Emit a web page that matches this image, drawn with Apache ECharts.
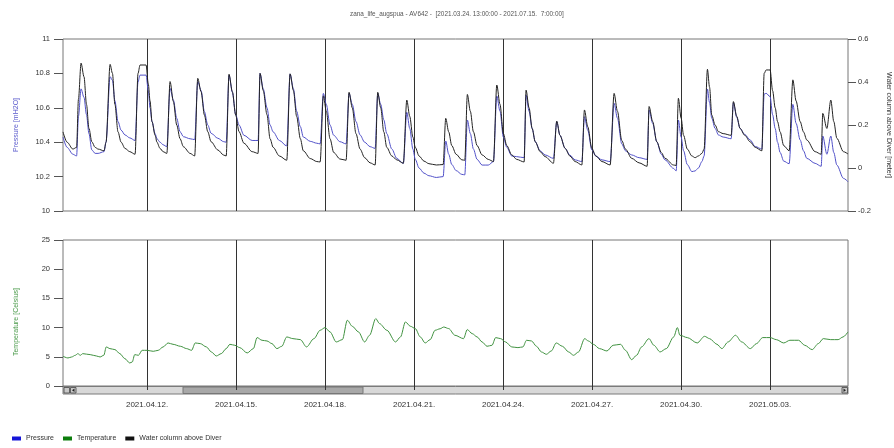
<!DOCTYPE html>
<html>
<head>
<meta charset="utf-8">
<title>zana_life_augspua - AV642</title>
<script src="https://cdn.jsdelivr.net/npm/echarts@6.0.0/dist/echarts.min.js"></script>
<style>
  html, body { margin: 0; padding: 0; background: #fff; }
  #chart { width: 894px; height: 448px; }
</style>
</head>
<body>
<div id="chart"></div>
<script>
// time is in hours since 2021.04.09. 00:00 (UTC)
const xMin = 4
const xMax = 639
const dateLabels = ['2021.04.12.', '2021.04.15.', '2021.04.18.', '2021.04.21.', '2021.04.24.', '2021.04.27.', '2021.04.30.', '2021.05.03.']

// sample times shared by pressure and water column
const topHours = [
  4, 7.3, 12, 15, 16.5, 18.6, 21, 23, 25, 27.3,
  30, 32.4, 37.2, 38.8, 42.1, 44, 46, 48.5, 51, 54.2,
  58, 62.3, 64.7, 66.3, 71.2, 73, 74.4, 76, 78.5, 80,
  82.5, 85, 88, 90.6, 93.3, 96, 98.7, 101.4, 106.8, 110.5,
  113, 115.7, 118.4, 121.1, 123.8, 129.2, 134, 136, 138.3, 141,
  143.7, 146.4, 150.4, 157, 161.8, 163.4, 166, 169, 171.5, 174,
  179, 185, 187.7, 190.4, 193, 196, 198.4, 204, 209.3, 212,
  214.6, 217, 220, 223, 228, 233, 235.4, 238, 241, 244.3,
  248, 252.4, 256.5, 258.6, 261, 263.5, 265.9, 270, 274, 279.3,
  282.1, 284.5, 287, 289, 292, 296, 300, 306, 311.5, 313.6,
  316, 318.5, 322, 326.6, 329, 331.1, 333.5, 336, 339, 343,
  348, 352.2, 354.9, 357.5, 360.2, 363, 367, 371, 377, 378.6,
  381, 383.5, 386, 390, 394, 400.7, 403.4, 406, 410.2, 414,
  418.3, 423.7, 425.8, 428.5, 431.8, 435, 440, 446.6, 449.8, 452.5,
  456, 459, 464, 470, 476.5, 478.1, 481, 484.3, 488, 491,
  497.8, 500, 501.8, 504, 506, 509, 512.7, 515.3, 518, 520.8,
  522.6, 525.3, 527, 528.8, 531.5, 534.2, 538, 544.5, 546.3, 549,
  551.7, 555.5, 559.8, 564, 569.3, 571.2, 572.8, 576, 578, 580.1,
  582, 584.1, 587, 591.4, 594.4, 597, 600.3, 603, 605.7, 612.4,
  617.3, 618.6, 621.9, 625.1, 627.5, 630, 635.3, 639
]

// Pressure [mH2O]
const pressure = [
  10.43, 10.37, 10.33, 10.32, 10.55, 10.71, 10.66, 10.56, 10.45, 10.355,
  10.335, 10.335, 10.345, 10.40, 10.781, 10.76, 10.64, 10.52, 10.47, 10.442,
  10.425, 10.41, 10.75, 10.79, 10.79, 10.70, 10.60, 10.52, 10.45, 10.42,
  10.40, 10.385, 10.374, 10.713, 10.645, 10.539, 10.461, 10.432, 10.42, 10.415,
  10.752, 10.70, 10.577, 10.50, 10.452, 10.423, 10.403, 10.40, 10.79, 10.69,
  10.56, 10.50, 10.44, 10.41, 10.41, 10.80, 10.71, 10.60, 10.50, 10.46,
  10.41, 10.378, 10.797, 10.71, 10.58, 10.49, 10.43, 10.405, 10.394, 10.39,
  10.684, 10.62, 10.50, 10.44, 10.403, 10.39, 10.684, 10.62, 10.52, 10.442,
  10.40, 10.374, 10.364, 10.684, 10.62, 10.53, 10.45, 10.36, 10.306, 10.277,
  10.574, 10.48, 10.36, 10.30, 10.25, 10.22, 10.205, 10.195, 10.20, 10.407,
  10.33, 10.27, 10.235, 10.213, 10.21, 10.529, 10.45, 10.36, 10.30, 10.267,
  10.267, 10.287, 10.669, 10.58, 10.43, 10.37, 10.32, 10.316, 10.31, 10.674,
  10.58, 10.48, 10.403, 10.35, 10.326, 10.306, 10.52, 10.44, 10.364, 10.325,
  10.297, 10.287, 10.548, 10.47, 10.355, 10.32, 10.297, 10.287, 10.626, 10.54,
  10.39, 10.35, 10.326, 10.31, 10.30, 10.587, 10.51, 10.403, 10.33, 10.297,
  10.248, 10.233, 10.529, 10.43, 10.35, 10.27, 10.229, 10.233, 10.25, 10.287,
  10.32, 10.709, 10.63, 10.539, 10.48, 10.442, 10.43, 10.42, 10.63, 10.545,
  10.48, 10.445, 10.413, 10.375, 10.36, 10.68, 10.684, 10.665, 10.56, 10.48,
  10.40, 10.34, 10.29, 10.275, 10.62, 10.51, 10.413, 10.35, 10.306, 10.277,
  10.26, 10.436, 10.33, 10.436, 10.34, 10.267, 10.19, 10.17
]

// Water column above Diver [meter]
const waterColumn = [
  0.168, 0.12, 0.088, 0.096, 0.32, 0.488, 0.424, 0.296, 0.184, 0.122,
  0.096, 0.088, 0.08, 0.12, 0.482, 0.44, 0.296, 0.168, 0.12, 0.091,
  0.076, 0.064, 0.44, 0.479, 0.479, 0.392, 0.312, 0.216, 0.152, 0.12,
  0.091, 0.076, 0.068, 0.402, 0.309, 0.2, 0.136, 0.099, 0.068, 0.056,
  0.417, 0.355, 0.246, 0.169, 0.122, 0.084, 0.06, 0.056, 0.436, 0.355,
  0.246, 0.169, 0.115, 0.076, 0.068, 0.44, 0.36, 0.248, 0.136, 0.096,
  0.056, 0.036, 0.438, 0.36, 0.24, 0.136, 0.08, 0.044, 0.03, 0.028,
  0.336, 0.264, 0.136, 0.072, 0.042, 0.036, 0.352, 0.28, 0.16, 0.088,
  0.048, 0.024, 0.014, 0.352, 0.28, 0.168, 0.096, 0.056, 0.038, 0.022,
  0.316, 0.24, 0.144, 0.096, 0.056, 0.032, 0.02, 0.014, 0.016, 0.231,
  0.168, 0.104, 0.064, 0.038, 0.036, 0.342, 0.264, 0.168, 0.104, 0.061,
  0.04, 0.03, 0.386, 0.296, 0.16, 0.104, 0.061, 0.04, 0.028, 0.362,
  0.28, 0.184, 0.122, 0.076, 0.053, 0.022, 0.218, 0.152, 0.091, 0.056,
  0.03, 0.014, 0.27, 0.192, 0.091, 0.056, 0.03, 0.014, 0.347, 0.264,
  0.128, 0.088, 0.045, 0.024, 0.008, 0.286, 0.216, 0.122, 0.072, 0.045,
  0.014, 0.012, 0.324, 0.232, 0.152, 0.088, 0.056, 0.048, 0.056, 0.068,
  0.088, 0.459, 0.376, 0.246, 0.2, 0.169, 0.16, 0.152, 0.309, 0.24,
  0.184, 0.152, 0.122, 0.096, 0.08, 0.44, 0.456, 0.456, 0.36, 0.28,
  0.216, 0.168, 0.104, 0.08, 0.41, 0.312, 0.216, 0.168, 0.13, 0.076,
  0.064, 0.254, 0.184, 0.316, 0.216, 0.138, 0.076, 0.065
]

// [hour, Celsius]
const temperature = [
  [4, 5.09], [8, 4.8], [11, 4.97], [14, 5.26], [16, 5.54], [18, 5.26], [20, 5.54], [26, 5.37], [31, 5.14], [34, 4.97],
  [37, 5.26], [39, 6.69], [42, 6.4], [46, 6.23], [50, 5.54], [54, 4.69], [58, 3.94], [60, 4.11], [62, 5.37], [65, 5.26],
  [68, 6.11], [72, 6.11], [77, 5.94], [81, 6.11], [85, 6.69], [89, 7.37], [93, 7.14], [99, 6.8], [104, 6.4], [108, 6.11],
  [111, 7.37], [115, 7.26], [120, 6.69], [124, 5.83], [128, 5.14], [132, 5.54], [136, 6.4], [139, 7.14], [143, 6.97], [147, 6.57],
  [153, 5.66], [158, 6.4], [161, 8.29], [165, 7.83], [169, 7.71], [173, 7.26], [177, 6.4], [181, 6.8], [185, 8.4], [190, 8.11],
  [196, 7.94], [201, 6.69], [207, 8.11], [212, 9.54], [216, 10.0], [220, 9.26], [225, 7.54], [230, 7.94], [234, 11.26], [238, 10.23],
  [243, 9.26], [248, 7.54], [252, 8.69], [257, 11.54], [260, 10.69], [266, 9.54], [273, 7.54], [277, 8.4], [281, 10.97], [285, 10.23],
  [289, 9.83], [293, 8.4], [297, 7.37], [301, 7.94], [305, 9.54], [309, 9.8], [312, 10.1], [316, 9.83], [321, 8.69], [328, 8.11],
  [331, 9.66], [335, 8.97], [339, 8.4], [343, 7.54], [347, 6.8], [351, 6.97], [354, 8.29], [358, 8.11], [362, 7.54], [367, 6.69],
  [372, 6.57], [376, 6.69], [379, 7.83], [383, 7.71], [387, 6.8], [391, 5.83], [395, 5.43], [399, 6.0], [403, 7.37], [408, 6.8],
  [413, 5.83], [417, 5.26], [421, 5.83], [426, 8.11], [429, 7.71], [433, 7.14], [438, 6.4], [444, 6.0], [449, 6.97], [455, 7.14],
  [459, 6.11], [464, 4.51], [468, 5.26], [472, 6.69], [478, 8.11], [482, 6.97], [487, 5.83], [492, 6.4], [498, 8.4], [501, 10.0],
  [503, 8.69], [509, 8.29], [517, 7.37], [523, 8.51], [527, 8.11], [533, 7.14], [537, 6.4], [542, 7.54], [548, 8.69], [553, 7.54],
  [560, 6.4], [565, 7.26], [570, 8.29], [576, 8.29], [581, 7.94], [587, 7.37], [592, 7.83], [599, 7.83], [604, 6.97], [610, 6.23],
  [615, 7.26], [619, 8.11], [625, 7.94], [631, 7.94], [635, 8.4], [639, 9.26]
]

const BASE = Date.UTC(2021, 3, 9)
const HOUR = 3600000
const toHour = s => {
  const [y, m, d] = s.split('.').map(Number)
  return (Date.UTC(y, m - 1, d) - BASE) / HOUR
}
const tickHours = dateLabels.map(toHour)
const labelFor = v => {
  const i = tickHours.indexOf(Math.round(v))
  return i < 0 ? '' : dateLabels[i]
}
const zip = (xs, ys) => xs.map((x, i) => [x, ys[i]])

const font = 'Liberation Sans, Arial, sans-serif'

function timeAxis(gridIndex, showLabels, offset, tickLen) {
  return {
    type: 'value',
    gridIndex: gridIndex,
    min: xMin,
    max: xMax,
    offset: offset,
    axisLine: { show: false },
    axisTick: { show: true, customValues: tickHours, length: tickLen, lineStyle: { color: '#333' } },
    axisLabel: { show: showLabels, customValues: tickHours, formatter: labelFor, fontSize: 8, color: '#333', margin: 7 },
    splitLine: { show: true, lineStyle: { color: '#333', width: 1 } }
  }
}

function valueAxis(opts) {
  return Object.assign({
    type: 'value',
    nameLocation: 'middle',
    nameGap: 43,
    axisLine: { show: false },
    axisTick: { show: true, length: 9, lineStyle: { color: '#555' } },
    axisLabel: { fontSize: 7.5, color: '#333', margin: 13 },
    splitLine: { show: false }
  }, opts)
}

function lineSeries(name, xi, yi, data, legendColor, lineColor) {
  return {
    name: name, type: 'line', xAxisIndex: xi, yAxisIndex: yi,
    data: data, showSymbol: false, silent: true,
    smooth: 0.3, smoothMonotone: 'x',
    itemStyle: { color: legendColor }, lineStyle: { color: lineColor, width: 1 }
  }
}

const myChart = echarts.init(document.getElementById('chart'))
const option = {
  animation: false,
  textStyle: { fontFamily: font },
  title: {
    text: 'zana_life_augspua - AV642 -  [2021.03.24. 13:00:00 - 2021.07.15.  7:00:00]',
    left: 350,
    top: 11,
    padding: 0,
    textStyle: { fontSize: 6.4, fontWeight: 'normal', color: '#555', fontFamily: font }
  },
  legend: {
    left: 12,
    top: 435,
    padding: 0,
    icon: 'rect',
    itemWidth: 9,
    itemHeight: 4,
    itemGap: 9,
    textStyle: { fontSize: 7, color: '#333' },
    data: ['Pressure', 'Temperature', 'Water column above Diver']
  },
  grid: [
    { left: 63, right: 46, top: 39, height: 172, show: true, borderColor: '#777', borderWidth: 1, outerBoundsMode: 'none' },
    { left: 63, right: 46, top: 240, height: 146, show: true, borderColor: '#777', borderWidth: 1, outerBoundsMode: 'none' }
  ],
  xAxis: [
    timeAxis(0, false, 0, 7),
    timeAxis(1, true, 8, 4)
  ],
  yAxis: [
    valueAxis({
      gridIndex: 0, min: 10, max: 11, interval: 0.2,
      name: 'Pressure [mH2O]', nameRotate: 90,
      nameTextStyle: { fontSize: 7, color: '#5a5acc' }
    }),
    valueAxis({
      gridIndex: 0, position: 'right', min: -0.2, max: 0.6, interval: 0.2,
      name: 'Water column above Diver [meter]', nameRotate: -90, nameGap: 37,
      axisTick: { show: true, length: 8, lineStyle: { color: '#555' } },
      axisLabel: { fontSize: 7.5, color: '#333', margin: 10 },
      nameTextStyle: { fontSize: 7, color: '#333' }
    }),
    valueAxis({
      gridIndex: 1, min: 0, max: 25, interval: 5,
      name: 'Temperature [Celsius]', nameRotate: 90,
      nameTextStyle: { fontSize: 7, color: '#4a9a4a', padding: [0, 18, 0, 0] }
    })
  ],
  series: [
    lineSeries('Pressure', 0, 0, zip(topHours, pressure), '#1515d8', '#5050c8'),
    lineSeries('Water column above Diver', 0, 1, zip(topHours, waterColumn), '#111', '#222'),
    lineSeries('Temperature', 1, 2, temperature, '#0d7d0d', '#3f913f')
  ],
  // scrollbar look-alike under the temperature plot
  graphic: [
    { type: 'rect', silent: true, shape: { x: 63, y: 386.5, width: 785, height: 7.5 }, style: { fill: '#d8d8d8', stroke: '#7a7a7a', lineWidth: 1 } },
    { type: 'rect', silent: true, shape: { x: 183, y: 387, width: 180, height: 6.5 }, style: { fill: '#a8a8a8', stroke: '#777', lineWidth: 1 } },
    { type: 'rect', silent: true, shape: { x: 64, y: 387.5, width: 5.5, height: 5.5 }, style: { fill: '#c8c8c8', stroke: '#444', lineWidth: 0.8 } },
    { type: 'rect', silent: true, shape: { x: 70.5, y: 387.5, width: 5.5, height: 5.5 }, style: { fill: '#c8c8c8', stroke: '#444', lineWidth: 0.8 } },
    { type: 'polygon', silent: true, shape: { points: [[74.5, 388.5], [74.5, 392], [72, 390.25]] }, style: { fill: '#222' } },
    { type: 'rect', silent: true, shape: { x: 842, y: 387.5, width: 5.5, height: 5.5 }, style: { fill: '#c8c8c8', stroke: '#444', lineWidth: 0.8 } },
    { type: 'polygon', silent: true, shape: { points: [[843.5, 388.5], [843.5, 392], [846, 390.25]] }, style: { fill: '#222' } }
  ]
}
myChart.setOption(option)
</script>
</body>
</html>
